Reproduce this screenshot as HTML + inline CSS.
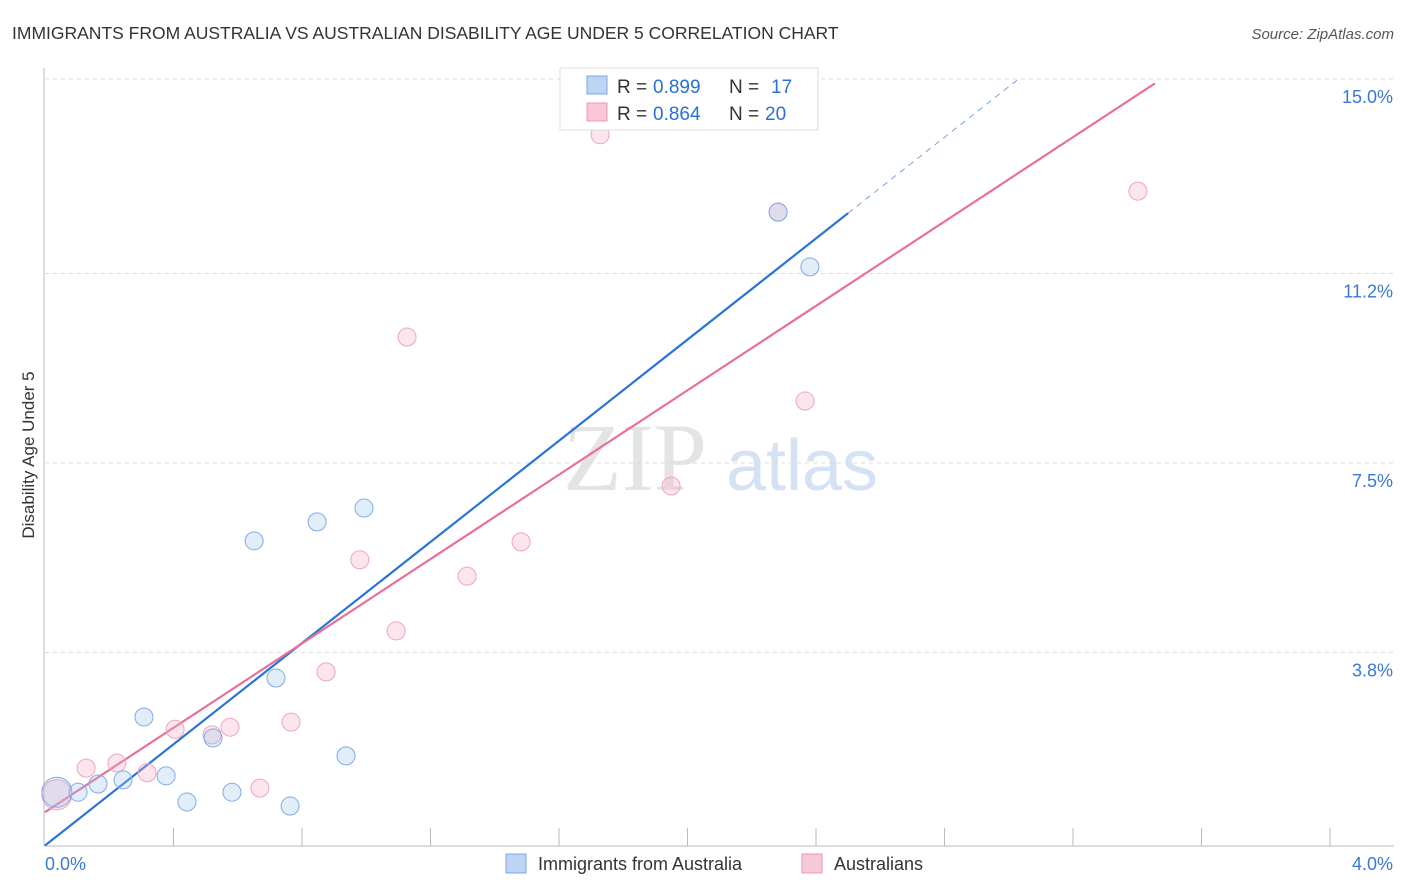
<!DOCTYPE html>
<html><head><meta charset="utf-8"><style>
body{margin:0;background:#fff;font-family:"Liberation Sans",sans-serif}
#wrap{position:relative;width:1406px;height:892px;overflow:hidden}
</style></head><body>
<div id="wrap">
<svg id="svg" width="1406" height="892" xmlns="http://www.w3.org/2000/svg">
<text x="12" y="39" font-size="17.5" fill="#333">IMMIGRANTS FROM AUSTRALIA VS AUSTRALIAN DISABILITY AGE UNDER 5 CORRELATION CHART</text>
<text x="1394" y="39" font-size="15" fill="#555" font-style="italic" text-anchor="end">Source: ZipAtlas.com</text>
<text x="0" y="0" transform="translate(34,455) rotate(-90)" font-size="17" fill="#333" text-anchor="middle">Disability Age Under 5</text>
<text x="635" y="490" font-size="96" fill="#e4e4e4" font-family="Liberation Serif,serif" text-anchor="middle">ZIP</text>
<text x="802" y="490" font-size="72" fill="#d4e2f4" text-anchor="middle">atlas</text>
<g id="grid"></g><g id="axes"></g><g id="lines"></g><g id="pts"></g>
<g>
<rect x="560" y="68" width="258" height="62" fill="#fff" stroke="#ddd"/>
<rect x="587" y="76" width="20" height="18" fill="#bcd5f5" stroke="#7aa8e4"/>
<text x="617" y="93" font-size="19" fill="#333">R =</text>
<text x="653" y="93" font-size="19" fill="#2a6fd6">0.899</text>
<text x="729" y="93" font-size="19" fill="#333">N =</text>
<text x="771" y="93" font-size="19" fill="#2a6fd6">17</text>
<rect x="587" y="103" width="20" height="18" fill="#f9c8d6" stroke="#eb99b2"/>
<text x="617" y="120" font-size="19" fill="#333">R =</text>
<text x="653" y="120" font-size="19" fill="#2a6fd6">0.864</text>
<text x="729" y="120" font-size="19" fill="#333">N =</text>
<text x="765" y="120" font-size="19" fill="#2a6fd6">20</text>
</g>
<g>
<rect x="506" y="854" width="20" height="19" fill="#bcd5f5" stroke="#7aa8e4"/>
<text x="538" y="870" font-size="18" fill="#333">Immigrants from Australia</text>
<rect x="802" y="854" width="20" height="19" fill="#f9c8d6" stroke="#eb99b2"/>
<text x="834" y="870" font-size="18" fill="#333">Australians</text>
</g>
</svg></div>
<script>
const yTicks=[3.8,7.5,11.2,15.0];
const yTickLabels=["3.8%","7.5%","11.2%","15.0%"];
const xTickCount=10;
const blueX=[0.037,0.103,0.165,0.243,0.308,0.377,0.442,0.523,0.582,0.651,0.719,0.763,0.847,0.937,0.993,2.282,2.381];
const blueY=[1.07,1.07,1.23,1.31,2.54,1.39,0.88,2.13,1.07,5.98,3.30,0.80,6.35,1.78,6.62,12.40,11.33];
const pinkX=[0.037,0.128,0.224,0.318,0.405,0.520,0.576,0.669,0.766,0.875,0.980,1.093,1.127,1.314,1.482,1.728,1.949,2.282,2.366,3.402];
const pinkY=[1.02,1.54,1.64,1.45,2.30,2.19,2.34,1.15,2.44,3.42,5.61,4.22,9.96,5.29,5.96,13.91,7.05,12.40,8.71,12.81];
const blueFit=[0.03,4.94];
const pinkFit=[0.68,4.12];
const NS="http://www.w3.org/2000/svg";
const xs=v=>45+v/4*1285, ys=v=>847-v/15*768;
function mk(p,t,a){const e=document.createElementNS(NS,t);for(const k in a)e.setAttribute(k,a[k]);p.appendChild(e);return e;}
const g=document.getElementById('grid'),ax=document.getElementById('axes'),ln=document.getElementById('lines'),pt=document.getElementById('pts');
yTicks.forEach((t,i)=>{
 const l=mk(g,'line',{x1:45,x2:1394,y1:ys(t),y2:ys(t),stroke:'#ddd','stroke-dasharray':'4 4'});
 
 
 const tx=mk(g,'text',{x:1393,y:ys(t)+24,'font-size':18,fill:'#3a78d8','text-anchor':'end'});tx.textContent=yTickLabels[i];
 
 
});
const yl=mk(ax,'line',{x1:44,x2:44,y1:68,y2:846,stroke:'#bbb'});


const xl=mk(ax,'line',{x1:44,x2:1394,y1:846,y2:846,stroke:'#bbb'});


for(let i=1;i<=xTickCount;i++){const t=mk(ax,'line',{x1:xs(i*0.4),x2:xs(i*0.4),y1:828,y2:846,stroke:'#bbb'});
 
 }
const x0=mk(ax,'text',{x:45,y:870,'font-size':18,fill:'#3a78d8'});x0.textContent='0.0%';


const x1=mk(ax,'text',{x:1393,y:870,'font-size':18,fill:'#3a78d8','text-anchor':'end'});x1.textContent='4.0%';


function fitLine(f,xa,xb,col,dash,name){const l=mk(ln,'line',{x1:xs(xa),y1:ys(f[0]+f[1]*xa),x2:xs(xb),y2:ys(f[0]+f[1]*xb),stroke:col,'stroke-width':dash?1:2.2});if(dash)l.setAttribute('stroke-dasharray','6 5');
 
 }
fitLine(blueFit,0,2.5,'#2a74d8',false,'trend-line-immigrants');
fitLine(blueFit,2.5,3.03,'#7aa3d8',true,'trend-line-immigrants-extension');
fitLine(pinkFit,0,3.455,'#e8709a',false,'trend-line-australians');
function pts(X,Y,fill,stroke,name){X.forEach((x,i)=>{const c=mk(pt,'circle',{cx:xs(x),cy:ys(Y[i]),r:i==0?15:9,fill:fill,stroke:stroke,'stroke-width':1});
 
 });}
pts(pinkX,pinkY,'rgba(245,170,195,0.3)','#eda6bd','point-australians');
pts(blueX,blueY,'rgba(160,195,240,0.3)','#80abe4','point-immigrants');
</script>
</body></html>
